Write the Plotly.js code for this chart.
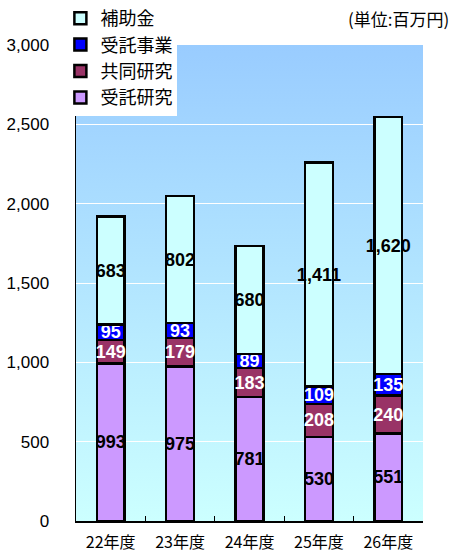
<!DOCTYPE html>
<html><head><meta charset="utf-8">
<script src="https://cdn.plot.ly/plotly-3.0.1.min.js"></script>
<style>
html,body{margin:0;padding:0;background:#fff;}
#wrap{position:relative;width:451px;height:553px;}
#bg{position:absolute;left:76px;top:45px;width:347px;height:476px;background:linear-gradient(to bottom,#99ccff 0%,#ccffff 100%);}
#chart{position:absolute;left:0;top:0;width:451px;height:553px;}
</style></head>
<body>
<div id="wrap"><div id="bg"></div><div id="chart"></div></div>
<script>
const categories = ["22年度","23年度","24年度","25年度","26年度"];
const jutakuKenkyu = [993, 975, 781, 530, 551];
const kyodoKenkyu = [149, 179, 183, 208, 240];
const jutakuJigyo = [95, 93, 89, 109, 135];
const hojokin = [683, 802, 680, 1411, 1620];
const yTicks = [0, 500, 1000, 1500, 2000, 2500, 3000];
const yTickLabels = ["0","500","1,000","1,500","2,000","2,500","3,000"];

const fmt = v => v.toLocaleString('en-US');
function mk(name, vals, color, textColor){
  return {
    type:'bar', name:name, x:categories, y:vals,
    text: vals.map(fmt), textposition:'inside', insidetextanchor:'middle', textangle:0,
    constraintext:'none', cliponaxis:false,
    textfont:{family:'"Liberation Sans", Arial, sans-serif', size:18, color:textColor, weight:'bold'},
    marker:{color:color, line:{color:'#000', width:2.5}},
    width:0.4, hoverinfo:'skip'
  };
}
const data = [
  mk('受託研究', jutakuKenkyu, '#cc99ff', '#000'),
  mk('共同研究', kyodoKenkyu, '#993366', '#fff'),
  mk('受託事業', jutakuJigyo, '#0000ff', '#fff'),
  mk('補助金', hojokin, '#ccffff', '#000')
];
const layout = {
  width:451, height:553, barmode:'stack',
  margin:{l:76, r:28, t:45, b:32, autoexpand:false},
  paper_bgcolor:'rgba(0,0,0,0)', plot_bgcolor:'rgba(0,0,0,0)',
  font:{family:'"Noto Sans CJK JP", sans-serif', color:'#000'},
  showlegend:true,
  legend:{x:-0.045, xref:'paper', xanchor:'left', y:1.005, yref:'container', yanchor:'top',
    bgcolor:'#fff', traceorder:'reversed', font:{size:18, family:'"Noto Sans CJK JP", sans-serif'},
    itemwidth:30, tracegroupgap:0},
  xaxis:{type:'category', showline:true, linecolor:'#000', linewidth:1.5,
    ticks:'inside', tickson:'boundaries', ticklen:5, tickcolor:'#000', ticklabelstandoff:6,
    tickfont:{size:16, family:'"Noto Sans CJK JP", sans-serif'}, showgrid:false},
  yaxis:{range:[0,3000], tickvals:yTicks, ticktext:yTickLabels, showline:true, linecolor:'#000', linewidth:1.5,
    showgrid:true, gridcolor:'#fff', gridwidth:1, zeroline:false,
    ticks:'', ticklabelstandoff:22,
    tickfont:{size:17, family:'"Liberation Sans", Arial, sans-serif'}},
  annotations:[{text:'(単位:百万円)', xref:'paper', yref:'paper', x:1.08, y:1.056, xanchor:'right', yanchor:'middle',
    showarrow:false, font:{size:17, family:'"Noto Sans CJK JP", sans-serif'}}]
};
Plotly.newPlot('chart', data, layout, {displayModeBar:false, staticPlot:true});
</script>
</body></html>
